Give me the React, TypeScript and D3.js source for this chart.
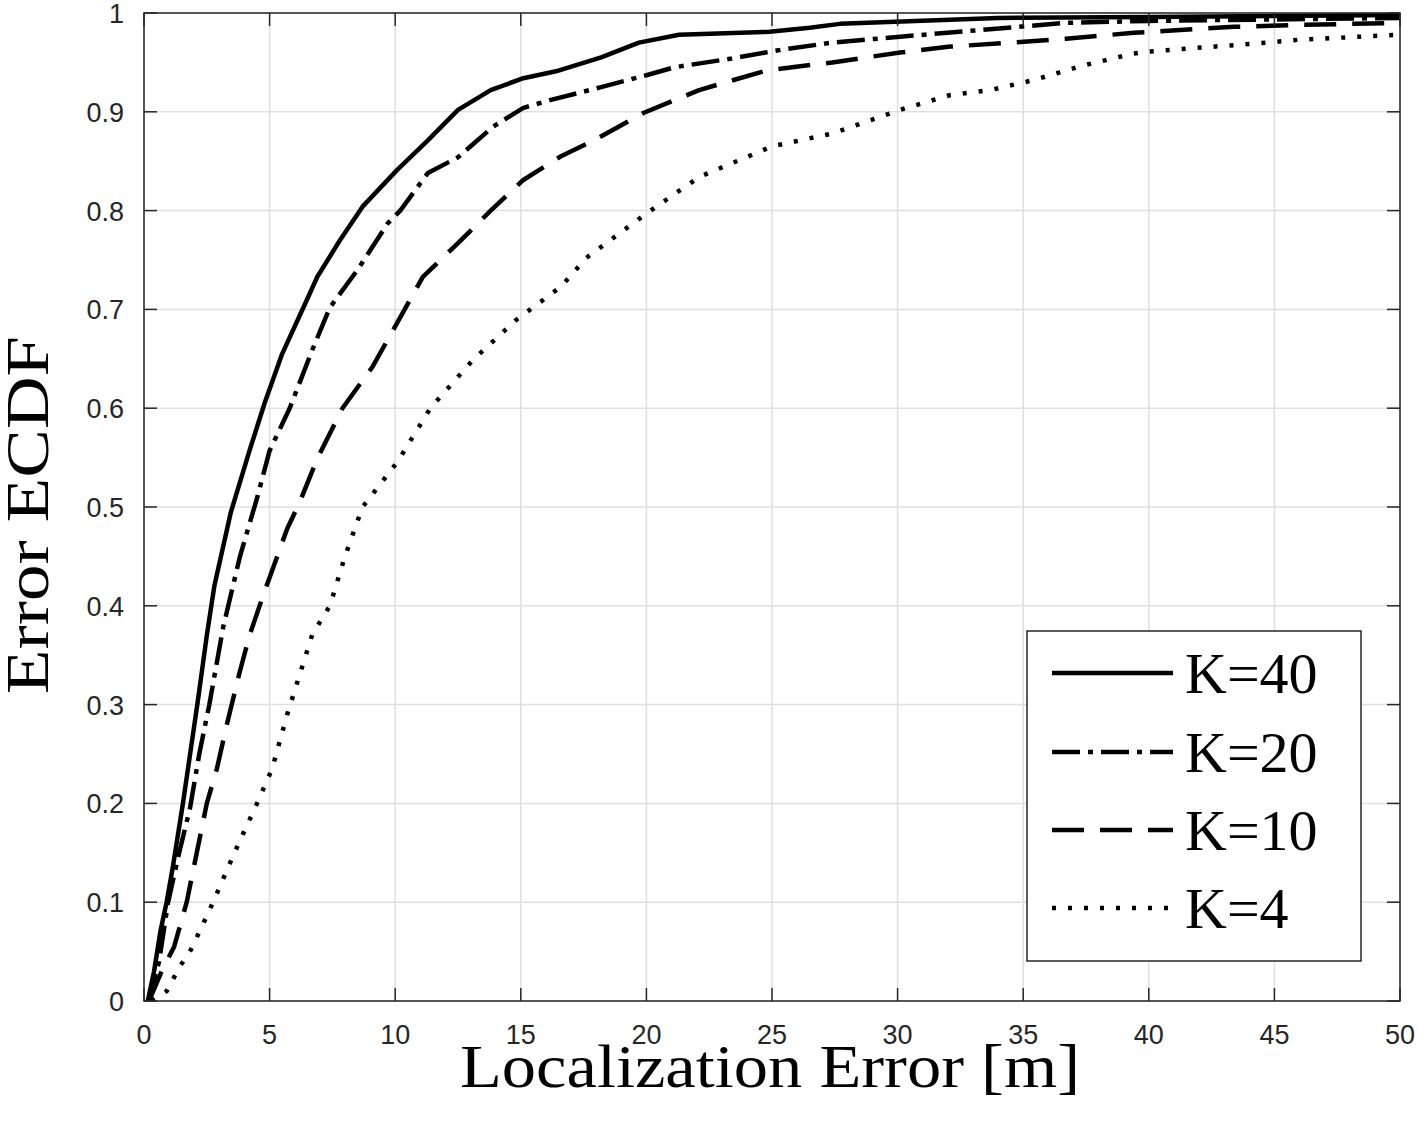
import React from "react";
import * as d3 from "d3";

const xTicks = [0, 5, 10, 15, 20, 25, 30, 35, 40, 45, 50];
const yTicks = [0, 0.1, 0.2, 0.3, 0.4, 0.5, 0.6, 0.7, 0.8, 0.9, 1];
const yTickLabels = ["0", "0.1", "0.2", "0.3", "0.4", "0.5", "0.6", "0.7", "0.8", "0.9", "1"];

const seriesNames = ["K=40", "K=20", "K=10", "K=4"];

const k40: [number, number][] = [
  [0.15, 0], [0.4, 0.03], [0.65, 0.07], [0.9, 0.1], [1.15, 0.136], [1.55, 0.2], [1.95, 0.27],
  [2.15, 0.305], [2.5, 0.37], [2.8, 0.42], [3.45, 0.494], [4.2, 0.557], [4.8, 0.605], [5.5, 0.655],
  [6.4, 0.705], [6.9, 0.733], [7.8, 0.77], [8.7, 0.804], [10.07, 0.841], [11.3, 0.871], [12.5, 0.902],
  [13.8, 0.922], [15.1, 0.934], [16.4, 0.941], [18.2, 0.955], [19.7, 0.97], [21.3, 0.978], [24.9, 0.981],
  [26.5, 0.985], [27.7, 0.989], [34, 0.995], [40, 0.996], [50, 0.998],
];

const k20: [number, number][] = [
  [0.2, 0], [0.6, 0.04], [0.96, 0.1], [1.4, 0.15], [1.83, 0.195], [2.2, 0.25], [2.6, 0.3], [3.15, 0.378],
  [3.82, 0.45], [4.5, 0.509], [5.0, 0.557], [5.8, 0.6], [6.7, 0.659], [7.4, 0.702], [8.5, 0.74],
  [9.7, 0.787], [10.2, 0.8], [11.3, 0.838], [12.5, 0.854], [13.9, 0.885], [15.1, 0.904], [16.2, 0.912],
  [18.2, 0.925], [20, 0.937], [21.1, 0.945], [23.4, 0.954], [25.4, 0.963], [27.4, 0.97], [30.1, 0.976],
  [33.4, 0.983], [36.7, 0.99], [40, 0.992], [50, 0.995],
];

const k10: [number, number][] = [
  [0.2, 0], [0.7, 0.03], [1.2, 0.055], [1.7, 0.1], [2.1, 0.15], [2.5, 0.2], [2.9, 0.235], [3.3, 0.28],
  [3.8, 0.332], [4.2, 0.37], [4.75, 0.411], [5.7, 0.478], [6.2, 0.505], [6.9, 0.549], [7.9, 0.6],
  [9.1, 0.642], [10.2, 0.692], [11.1, 0.733], [12.5, 0.767], [13.8, 0.8], [15.1, 0.831], [16.6, 0.855],
  [17.9, 0.871], [19.9, 0.899], [22.1, 0.922], [24.8, 0.942], [27.4, 0.95], [30.1, 0.96], [32.1, 0.966],
  [34.5, 0.97], [36.7, 0.974], [39.4, 0.98], [41.4, 0.983], [43.4, 0.986], [46, 0.988], [50, 0.99],
];

const k4: [number, number][] = [
  [0.3, 0], [0.9, 0.01], [1.43, 0.035], [1.83, 0.05], [2.3, 0.075], [2.75, 0.1], [3.6, 0.15], [4.5, 0.2],
  [5.1, 0.235], [5.7, 0.29], [6.7, 0.371], [7.4, 0.4], [8.0, 0.45], [8.7, 0.5], [10.1, 0.546],
  [11.4, 0.6], [13.1, 0.649], [14.8, 0.689], [16.6, 0.723], [17.6, 0.752], [20, 0.797], [22.1, 0.834],
  [25, 0.865], [27.4, 0.878], [30.1, 0.902], [32.1, 0.917], [33.7, 0.922], [35.4, 0.932], [37.4, 0.947],
  [39.4, 0.959], [40, 0.961], [44.7, 0.97], [46, 0.973], [50, 0.978],
];

const seriesData = [k40, k20, k10, k4];
const dashes = ["none", "28 8 5 8", "32 16", "4 12"];

const W = 1418;
const H = 1127;
const left = 144;
const right = 1400;
const top = 13;
const bottom = 1001;

export default function App() {
  const x = d3.scaleLinear().domain([0, 50]).range([left, right]);
  const y = d3.scaleLinear().domain([0, 1]).range([bottom, top]);
  const line = d3
    .line<[number, number]>()
    .x((d) => x(d[0]))
    .y((d) => y(d[1]));

  const axisColor = "#262626";
  const gridColor = "#dfdfdf";
  const tickLen = 13;
  const sans = "'Liberation Sans', Arial, Helvetica, sans-serif";
  const serif = "'Liberation Serif', 'DejaVu Serif', serif";

  const legX = 1027;
  const legY = 631;
  const legW = 334;
  const legH = 330;
  const rowY = [673, 752, 830, 908];

  return (
    <svg width={W} height={H} style={{ position: "absolute", left: 0, top: 0, background: "#fff" }}>
      <defs>
        <clipPath id="plotClip">
          <rect x={left} y={top - 3} width={right - left} height={bottom - top + 3} />
        </clipPath>
      </defs>
      <rect x={0} y={0} width={W} height={H} fill="#fff" />
      {/* grid */}
      {xTicks.map((t) => (
        <line key={"gx" + t} x1={x(t)} x2={x(t)} y1={top} y2={bottom} stroke={gridColor} strokeWidth={1.5} />
      ))}
      {yTicks.map((t) => (
        <line key={"gy" + t} x1={left} x2={right} y1={y(t)} y2={y(t)} stroke={gridColor} strokeWidth={1.5} />
      ))}
      {/* curves */}
      <g clipPath="url(#plotClip)">
        {seriesData.map((d, i) => (
          <path
            key={seriesNames[i]}
            d={line(d) || ""}
            fill="none"
            stroke="#000"
            strokeWidth={4.5}
            strokeDasharray={dashes[i]}
            strokeLinejoin="round"
          />
        ))}
      </g>
      {/* box */}
      <rect x={left} y={top} width={right - left} height={bottom - top} fill="none" stroke={axisColor} strokeWidth={1.5} />
      {/* ticks */}
      {xTicks.map((t) => (
        <g key={"tx" + t}>
          <line x1={x(t)} x2={x(t)} y1={bottom} y2={bottom - tickLen} stroke={axisColor} strokeWidth={1.5} />
          <line x1={x(t)} x2={x(t)} y1={top} y2={top + tickLen} stroke={axisColor} strokeWidth={1.5} />
          <text x={x(t)} y={1044} textAnchor="middle" fontFamily={sans} fontSize={27} fill="#262626">
            {t}
          </text>
        </g>
      ))}
      {yTicks.map((t, i) => (
        <g key={"ty" + t}>
          <line x1={left} x2={left + tickLen} y1={y(t)} y2={y(t)} stroke={axisColor} strokeWidth={1.5} />
          <line x1={right} x2={right - tickLen} y1={y(t)} y2={y(t)} stroke={axisColor} strokeWidth={1.5} />
          <text x={124} y={y(t) + 10} textAnchor="end" fontFamily={sans} fontSize={27} fill="#262626">
            {yTickLabels[i]}
          </text>
        </g>
      ))}
      {/* axis labels */}
      <text x={770} y={1087} textAnchor="middle" fontFamily={serif} fontSize={62} fill="#000" textLength={620} lengthAdjust="spacingAndGlyphs">
        Localization Error [m]
      </text>
      <text
        transform="translate(48,515) rotate(-90)"
        textAnchor="middle"
        fontFamily={serif}
        fontSize={62}
        fill="#000"
        textLength={358}
        lengthAdjust="spacingAndGlyphs"
      >
        Error ECDF
      </text>
      {/* legend */}
      <rect x={legX} y={legY} width={legW} height={legH} fill="#fff" stroke={axisColor} strokeWidth={1.5} />
      {seriesNames.map((n, i) => (
        <g key={"leg" + n}>
          <line x1={1052} x2={1173} y1={rowY[i]} y2={rowY[i]} stroke="#000" strokeWidth={4.5} strokeDasharray={dashes[i]} />
          <text x={1185} y={rowY[i] + 20} fontFamily={serif} fontSize={58} fill="#000">
            {n}
          </text>
        </g>
      ))}
    </svg>
  );
}
